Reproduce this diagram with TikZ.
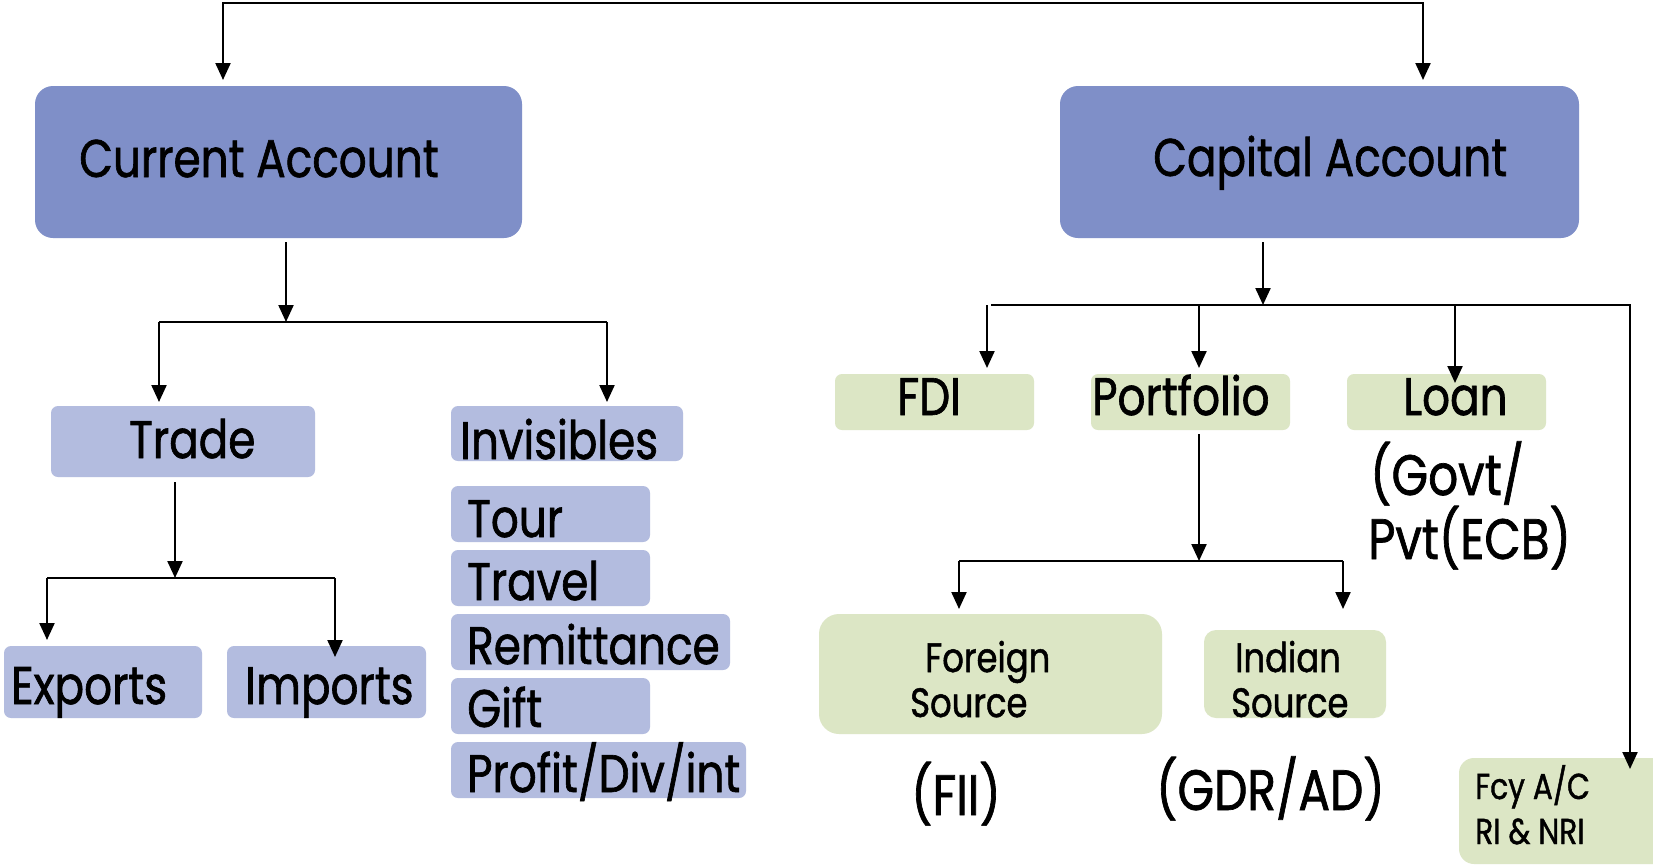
\documentclass[tikz,border=0pt]{standalone}
\usepackage{fontspec}
\setmainfont{Poppins}[FakeStretch=0.825,FakeBold=1.2]
\usetikzlibrary{arrows.meta}
\definecolor{dkb}{HTML}{7F8FC8}
\definecolor{ltb}{HTML}{B3BCDF}
\definecolor{grn}{HTML}{DCE6C5}
\tikzset{
  bxd/.style={fill=dkb, rounded corners=18pt, inner sep=0pt, outer sep=0pt},
  bxl/.style={fill=ltb, rounded corners=7pt, inner sep=0pt, outer sep=0pt},
  bxg/.style={fill=grn, rounded corners=7pt, inner sep=0pt, outer sep=0pt},
  lbl/.style={anchor=base west, inner sep=0pt, font=\fontsize{53}{60}\selectfont},
  lblm/.style={anchor=base west, inner sep=0pt, font=\fontsize{57}{64}\selectfont},
  lbls/.style={anchor=base west, inner sep=0pt, font=\fontsize{41}{48}\selectfont},
  lblt/.style={anchor=base west, inner sep=0pt, font=\fontsize{36}{42}\selectfont},
  ln/.style={draw, line width=2.2pt},
  arr/.style={draw, line width=2.2pt, -{Triangle[length=17pt,width=15pt]}},
  arrb/.style={draw, line width=2.2pt, {Triangle[length=17pt,width=15pt]}-{Triangle[length=17pt,width=15pt]}}
}
\begin{document}
\begin{tikzpicture}[x=1pt,y=-1pt]
\useasboundingbox (0,0) rectangle (1653,865);
\fill[white] (0,0) rectangle (1653,865);
% boxes
\node[bxd, minimum width=487pt, minimum height=152pt] (ca) at (278.5,162) {};
\node[bxd, minimum width=519pt, minimum height=152pt] (cap) at (1319.5,162) {};
\node[bxl, minimum width=264pt, minimum height=71pt] (tr) at (183,441.5) {};
\node[bxl, minimum width=232pt, minimum height=55pt] (inv) at (567,433.5) {};
\node[bxl, minimum width=199pt, minimum height=56pt] (tour) at (550.5,514) {};
\node[bxl, minimum width=199pt, minimum height=56pt] (trav) at (550.5,578) {};
\node[bxl, minimum width=279pt, minimum height=56pt] (rem) at (590.5,642) {};
\node[bxl, minimum width=199pt, minimum height=56pt] (gift) at (550.5,706) {};
\node[bxl, minimum width=295pt, minimum height=56pt] (prof) at (598.5,770) {};
\node[bxl, minimum width=198pt, minimum height=72pt] (exp) at (103,682) {};
\node[bxl, minimum width=199pt, minimum height=72pt] (imp) at (326.5,682) {};
\node[bxg, minimum width=199pt, minimum height=56pt] (fdi) at (934.5,402) {};
\node[bxg, minimum width=199pt, minimum height=56pt] (port) at (1190.5,402) {};
\node[bxg, minimum width=199pt, minimum height=56pt] (loan) at (1446.5,402) {};
\node[bxg, rounded corners=20pt, minimum width=343pt, minimum height=120pt] (fs) at (990.5,674) {};
\node[bxg, rounded corners=12pt, minimum width=182pt, minimum height=88pt] (is) at (1295,674) {};
\node[bxg, rounded corners=15pt, minimum width=210pt, minimum height=106pt] (fcy) at (1564,811) {};
% texts
\node[lbl] (tca) at (79,177) {Current Account};
\node[lbl] (tcap) at (1153,176) {Capital Account};
\node[lbl] (ttr) at (129,458) {Trade};
\node[lbl] (tinv) at (460,459) {Invisibles};
\node[lbl] (ttour) at (467,537) {Tour};
\node[lbl] (ttrav) at (467,600) {Travel};
\node[lbl] (trem) at (467,664) {Remittance};
\node[lbl] (tgift) at (467,727) {Gift};
\node[lbl] (tprof) at (467,792) {Profit/Div/int};
\node[lbl] (texp) at (11,704) {Exports};
\node[lbl] (timp) at (245,704) {Imports};
\node[lbl] (tfdi) at (897,415) {FDI};
\node[lbl] (tport) at (1092,415) {Portfolio};
\node[lbl] (tloan) at (1403,415) {Loan};
\node[lblm] (tgov) at (1370,495) {(Govt/};
\node[lblm] (tpvt) at (1368,559) {Pvt(ECB)};
\node[lbls] (tfor) at (925,672) {Foreign};
\node[lbls] (tfsrc) at (910,717) {Source};
\node[lbls] (tind) at (1235,672) {Indian};
\node[lbls] (tisrc) at (1231,717) {Source};
\node[lblm] (tfii) at (911,815) {(FII)};
\node[lblm] (tgdr) at (1156,810) {(GDR/AD)};
\node[lblt] (tfcy) at (1475,799) {Fcy A/C};
\node[lblt] (tri) at (1475,844) {RI \& NRI};
% connector coordinates
\coordinate (tl) at (223,3);
\coordinate (trr) at (1423,3);
\coordinate (j1) at (286,322);
\coordinate (j1a) at (159,322);
\coordinate (j1b) at (607,322);
\coordinate (j2) at (175,578);
\coordinate (j2a) at (47,578);
\coordinate (j2b) at (335,578);
\coordinate (j3) at (1263,305);
\coordinate (j3a) at (991,305);
\coordinate (j3f) at (987,305);
\coordinate (j3p) at (1199,305);
\coordinate (j3l) at (1455,305);
\coordinate (j3b) at (1630,305);
\coordinate (j4) at (1199,561);
\coordinate (j4a) at (959,561);
\coordinate (j4b) at (1343,561);
% connectors
\draw[arrb, shorten <=6pt, shorten >=6pt] (tl |- ca.north) -- (tl) -- (trr) -- (trr |- cap.north);
\draw[arr, shorten <=4pt] (j1 |- ca.south) -- (j1);
\draw[ln] (j1a) -- (j1b);
\draw[arr, shorten >=4pt] (j1a) -- (j1a |- tr.north);
\draw[arr, shorten >=4pt] (j1b) -- (j1b |- inv.north);
\draw[arr, shorten <=5pt] (j2 |- tr.south) -- (j2);
\draw[ln] (j2a) -- (j2b);
\draw[arr, shorten >=6pt] (j2a) -- (j2a |- exp.north);
\draw[arr, shorten >=-11pt] (j2b) -- (j2b |- imp.north);
\draw[arr, shorten <=4pt] (j3 |- cap.south) -- (j3);
\draw[arr, shorten >=-11pt] (j3a) -- (j3b) -- (j3b |- fcy.north);
\draw[arr, shorten >=6pt] (j3f) -- (j3f |- fdi.north);
\draw[arr, shorten >=6pt] (j3p) -- (j3p |- port.north);
\draw[arr, shorten >=-9pt] (j3l) -- (j3l |- loan.north);
\draw[arr, shorten <=4pt] (j4 |- port.south) -- (j4);
\draw[ln] (j4a) -- (j4b);
\draw[arr, shorten >=5pt] (j4a) -- (j4a |- fs.north);
\draw[arr, shorten >=21pt] (j4b) -- (j4b |- is.north);
\end{tikzpicture}
\end{document}
